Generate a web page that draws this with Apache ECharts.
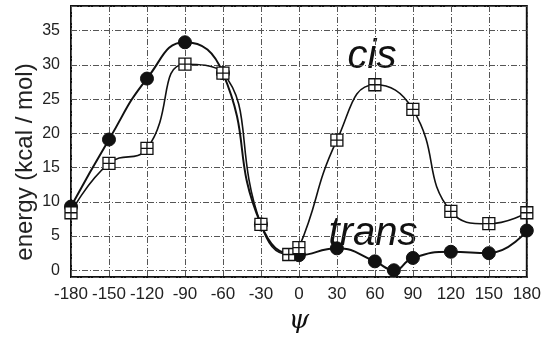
<!DOCTYPE html>
<html lang="en">
<head>
    <meta charset="utf-8">
    <title>cis / trans energy vs psi</title>
    <script src="https://cdn.jsdelivr.net/npm/echarts@6/dist/echarts.min.js"></script>
    <style>
        html, body { margin: 0; padding: 0; background: #fff; }
        #chart { width: 544px; height: 339px; }
    </style>
</head>
<body>
<div id="chart"></div>
<script type="text/javascript">
    // values: [psi, energy]
    var psiTicks = [-180, -150, -120, -90, -60, -30, 0, 30, 60, 90, 120, 150, 180];
    var transData = [[-180, 9.3], [-150, 19.1], [-120, 28.0], [-90, 33.3], [-60, 28.8], [-30, 6.7],
        [0, 2.2], [30, 3.2], [60, 1.3], [75, 0.0], [90, 1.8], [120, 2.7], [150, 2.5], [180, 5.8]];
    var cisData = [[-180, 8.4], [-150, 15.6], [-120, 17.8], [-90, 30.1], [-60, 28.8], [-30, 6.7],
        [-8, 2.3], [0, 3.3], [30, 19.0], [60, 27.1], [90, 23.5], [120, 8.6], [150, 6.8], [180, 8.4]];

    var boxSymbol = 'path://M0,0H10V10H0Z M5,0V10 M0,5H10';
    var gridLine = { show: true, lineStyle: { color: '#555', width: 1, type: [6, 2, 1, 2] } };

    var myChart = echarts.init(document.getElementById('chart'));
    var option = {
        animation: false,
        backgroundColor: '#fff',
        grid: {
            left: 71, right: 17, top: 6, bottom: 52,
            show: true, borderColor: '#111', borderWidth: 2, backgroundColor: 'transparent'
        },
        xAxis: {
            type: 'value',
            min: -180, max: 180, interval: 30,
            name: 'ψ',
            nameLocation: 'middle',
            nameGap: 24,
            nameTextStyle: { fontFamily: 'DejaVu Serif', fontStyle: 'italic', fontSize: 26, color: '#111' },
            axisLine: { show: false },
            axisTick: { show: false },
            axisLabel: {
                margin: 9, fontSize: 17, color: '#222', fontFamily: 'Liberation Sans',
                formatter: function (v) { return psiTicks.indexOf(v) >= 0 ? String(v) : ''; }
            },
            splitLine: gridLine
        },
        yAxis: {
            type: 'value',
            min: -1, max: 38.6, splitNumber: 8,
            axisLine: { show: false },
            axisTick: { show: false },
            axisLabel: {
                margin: 11, fontSize: 16, color: '#222', fontFamily: 'Liberation Sans',
                formatter: function (v) { return (v >= 0 && v % 5 === 0) ? String(v) : ''; }
            },
            splitLine: gridLine
        },
        graphic: [
            {
                type: 'text', x: 25, y: 162, rotation: Math.PI / 2,
                style: {
                    text: 'energy (kcal / mol)', fill: '#222',
                    font: '24px "Liberation Sans"', align: 'center', verticalAlign: 'middle'
                }
            },
            {
                type: 'text', x: 372, y: 77,
                style: {
                    text: 'cis', fill: '#111',
                    font: 'italic 40px "Liberation Sans"', align: 'center', verticalAlign: 'bottom'
                }
            },
            {
                type: 'text', x: 373, y: 254,
                style: {
                    text: 'trans', fill: '#111',
                    font: 'italic 40px "Liberation Sans"', align: 'center', verticalAlign: 'bottom'
                }
            }
        ],
        series: [
            {
                name: 'trans',
                type: 'line',
                data: transData,
                smooth: 0.5,
                symbol: 'circle',
                symbolSize: 13,
                lineStyle: { color: '#111', width: 2 },
                itemStyle: { color: '#111', borderColor: '#111', borderWidth: 1 },
                z: 2
            },
            {
                name: 'cis',
                type: 'line',
                data: cisData,
                smooth: 0.5,
                symbol: boxSymbol,
                symbolSize: 12,
                lineStyle: { color: '#111', width: 1.6 },
                itemStyle: { color: '#fff', borderColor: '#111', borderWidth: 1.3 },
                z: 3
            }
        ]
    };
    myChart.setOption(option);
</script>
</body>
</html>
